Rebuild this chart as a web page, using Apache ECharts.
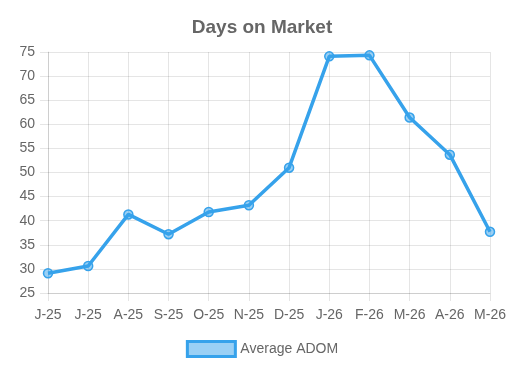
<!DOCTYPE html>
<html>
<head>
<meta charset="utf-8">
<script src="https://cdn.jsdelivr.net/npm/echarts@6/dist/echarts.min.js"></script>
<style>html,body{margin:0;padding:0;background:#fff;}#c{width:524px;height:386px;}</style>
</head>
<body>
<div id="c"></div>
<script>
const categories = ['J-25','J-25','A-25','S-25','O-25','N-25','D-25','J-26','F-26','M-26','A-26','M-26'];
const adomValues = [29.1, 30.6, 41.3, 37.2, 41.8, 43.2, 51.0, 74.1, 74.3, 61.4, 53.7, 37.7];
const seriesName = 'Average ADOM';
const yTicks = {min: 25, max: 75, step: 5};

const chart = echarts.init(document.getElementById('c'));
const gridColor = 'rgba(0,0,0,0.1)';
const font = 'Arial, "Liberation Sans", Helvetica, sans-serif';
chart.setOption({
  animation: false,
  title: {
    text: 'Days on Market', left: 'center', top: 13,
    textStyle: {fontFamily: font, fontSize: 19, fontWeight: 'bold', color: '#666'}
  },
  legend: {
    top: 335, left: 'center', itemWidth: 48, itemHeight: 15, itemGap: 10,
    textStyle: {fontFamily: font, fontSize: 14, color: '#666'},
    data: [{name: seriesName, icon: 'rect', itemStyle: {color: 'rgba(54,162,235,0.5)', borderColor: '#36A2EB', borderWidth: 3}}]
  },
  grid: {left: 48, right: 34, top: 52, bottom: 93},
  xAxis: {
    type: 'category', data: categories, boundaryGap: false,
    axisLine: {show: true, lineStyle: {color: gridColor}},
    axisTick: {show: true, length: 8, lineStyle: {color: gridColor}},
    splitLine: {show: true, lineStyle: {color: gridColor}},
    axisLabel: {fontFamily: font, fontSize: 14, color: '#666', margin: 15, interval: 0}
  },
  yAxis: {
    type: 'value', min: yTicks.min, max: yTicks.max, interval: yTicks.step,
    axisLine: {show: true, lineStyle: {color: gridColor}},
    axisTick: {show: true, length: 8, lineStyle: {color: gridColor}},
    splitLine: {show: true, lineStyle: {color: gridColor}},
    axisLabel: {fontFamily: font, fontSize: 14, color: '#666', margin: 13}
  },
  series: [{
    name: seriesName, type: 'line', data: adomValues,
    symbol: 'circle', symbolSize: 9, showSymbol: true,
    lineStyle: {color: '#36A2EB', width: 3.5},
    itemStyle: {color: 'rgba(54,162,235,0.5)', borderColor: '#36A2EB', borderWidth: 1.5}
  }]
});
</script>
</body>
</html>
